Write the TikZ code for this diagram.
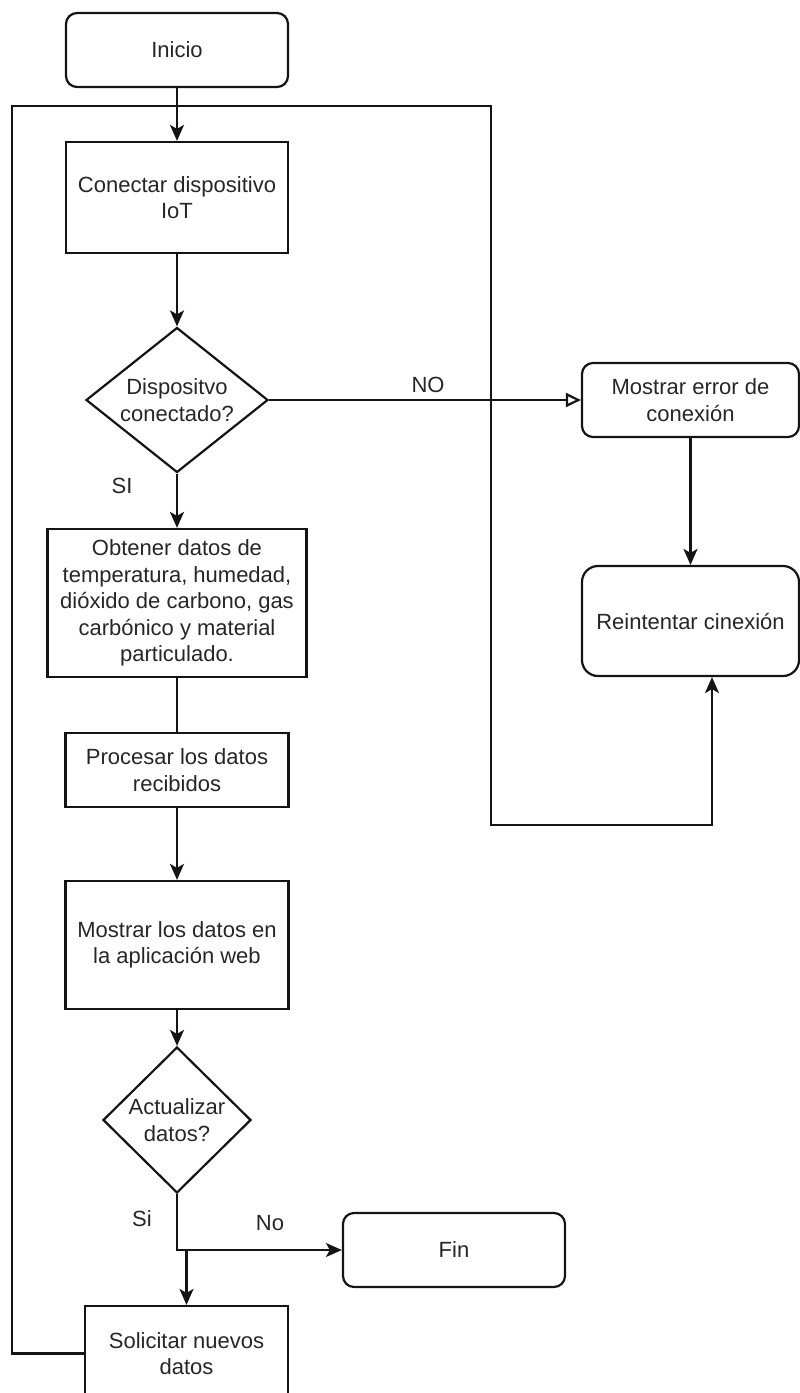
\documentclass[tikz,border=0pt]{standalone}
\usepackage{fontspec}
\setmainfont{Liberation Sans}
\usetikzlibrary{positioning, arrows.meta, shapes.geometric}
\definecolor{linea}{HTML}{141414}
\definecolor{texto}{HTML}{262626}
\newcommand{\letra}{\fontsize{22pt}{26.5pt}\selectfont}
\tikzset{
    x=1pt, y=-1pt, % one unit is one pixel of the page
    >={Stealth[length=16pt, width=14pt, inset=4pt]}, % filled arrow heads
    caja/.style={rectangle, draw, text=texto, font=\letra, align=center, inner sep=0pt}, % process boxes
    redonda/.style={caja, rounded corners=11pt}, % start, end and error boxes
    decision/.style={diamond, draw, text=texto, font=\letra, align=center, inner sep=0pt}, % questions
    etiqueta/.style={text=texto, font=\letra}, % branch labels
}

\begin{document}
\begin{tikzpicture}[line width=2.2pt, color=linea]
            \useasboundingbox (0,0) rectangle (800,1393);

            \node[redonda, minimum width=222pt, minimum height=74pt] (inicio) at (177,50) {Inicio};
            \node[caja, below of=inicio, node distance=147.5pt, minimum width=222pt, minimum height=111pt] (conectar) {Conectar dispositivo\\IoT};
            \node[decision, aspect=1.25, below of=conectar, node distance=202.5pt, minimum width=182pt, minimum height=145pt] (dec1) {Dispositvo\\conectado?};
            \node[caja, below of=dec1, node distance=203pt, minimum width=259pt, minimum height=148pt] (obtener) {Obtener datos de\\temperatura, humedad,\\dióxido de carbono, gas\\carbónico y material\\particulado.};
            \node[caja, below of=obtener, node distance=167pt, minimum width=223pt, minimum height=74pt] (procesar) {Procesar los datos\\recibidos};
            \node[caja, below of=procesar, node distance=175pt, minimum width=223pt, minimum height=128pt] (mostrar) {Mostrar los datos en\\la aplicación web};
            \node[decision, below of=mostrar, node distance=175pt, minimum width=148pt, minimum height=146pt] (dec2) {Actualizar\\datos?};
            \node[caja, below of=dec2, node distance=233.5pt, xshift=9.5pt, minimum width=203pt, minimum height=95pt] (solicitar) {Solicitar nuevos\\datos};
            \node[redonda, minimum width=222pt, minimum height=74pt] (fin) at (454,1250) {Fin};
            \node[redonda, right of=dec1, node distance=513.5pt, minimum width=217pt, minimum height=74pt] (error) {Mostrar error de\\conexión};
            \node[redonda, rounded corners=16pt, below of=error, node distance=221pt, minimum width=217pt, minimum height=110pt] (reintentar) {Reintentar cinexión};

            \node[etiqueta] (no1) at (428,385) {NO};
            \node[etiqueta] (si1) at (122,486) {SI};
            \node[etiqueta] (si2) at (142,1219) {Si};
            \node[etiqueta] (no2) at (270,1223) {No};

            \draw[->] (inicio) -- (conectar);
            \draw[->] (conectar) -- (dec1);
            \draw[->] (dec1) -- (obtener);
            \draw (obtener) -- (procesar);
            \draw[->] (procesar) -- (mostrar);
            \draw[->] (mostrar) -- (dec2);
            \draw[-{Triangle[open, length=15pt, width=14pt]}] (dec1.east) -- (dec1.east -| error.west);
            \draw[->] (error) -- (reintentar);
            \draw[->] (dec2.south) |- (fin.west);
            \draw[->] (dec2.south) -- ++(0,56) -| (solicitar.north);
            \draw[->] (solicitar.west) -| (12,106) -| (491,825) -| ([xshift=21.5pt]reintentar.south);
        \end{tikzpicture}
\end{document}
